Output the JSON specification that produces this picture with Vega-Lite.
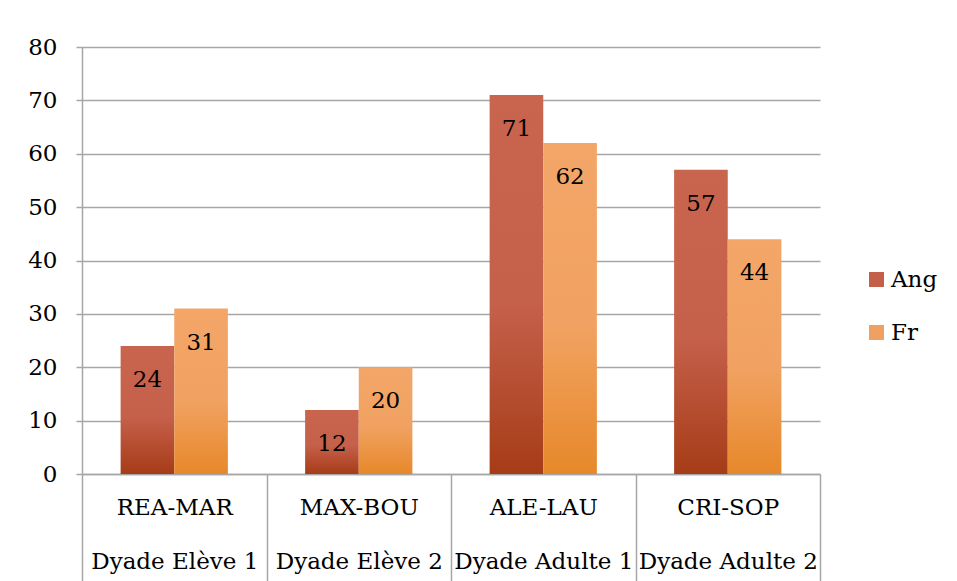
{
  "$schema": "https://vega.github.io/schema/vega-lite/v6.json",
  "width": 738,
  "height": 427,
  "autosize": {"type": "none"},
  "padding": {"left": 82, "top": 47, "right": 137, "bottom": 107},
  "background": "white",
  "config": {
    "view": {"stroke": null},
    "font": "DejaVu Serif"
  },
  "data": {
    "values": [
      {"pair": "REA-MAR|Dyade Elève 1", "lang": "Ang", "value": 24},
      {"pair": "REA-MAR|Dyade Elève 1", "lang": "Fr", "value": 31},
      {"pair": "MAX-BOU|Dyade Elève 2", "lang": "Ang", "value": 12},
      {"pair": "MAX-BOU|Dyade Elève 2", "lang": "Fr", "value": 20},
      {"pair": "ALE-LAU|Dyade Adulte 1", "lang": "Ang", "value": 71},
      {"pair": "ALE-LAU|Dyade Adulte 1", "lang": "Fr", "value": 62},
      {"pair": "CRI-SOP|Dyade Adulte 2", "lang": "Ang", "value": 57},
      {"pair": "CRI-SOP|Dyade Adulte 2", "lang": "Fr", "value": 44}
    ]
  },
  "encoding": {
    "x": {
      "field": "pair",
      "type": "nominal",
      "sort": null,
      "scale": {"paddingInner": 0, "paddingOuter": 0},
      "axis": {
        "title": null,
        "labelAngle": 0,
        "labelExpr": "isValid(datum.value) ? split(datum.value, '|') : ''",
        "labelFont": "DejaVu Serif",
        "labelFontSize": 23,
        "labelColor": "#000000",
        "labelLineHeight": 54,
        "labelBaseline": "top",
        "labelPadding": -85,
        "tickBand": "extent",
        "tickSize": 107,
        "tickColor": "#A6A6A6",
        "tickWidth": 1.5,
        "domainColor": "#A6A6A6",
        "domainWidth": 1.5,
        "grid": false
      }
    },
    "xOffset": {
      "field": "lang",
      "type": "nominal",
      "scale": {"paddingInner": 0, "paddingOuter": 0.72}
    },
    "y": {
      "field": "value",
      "type": "quantitative",
      "scale": {"domain": [0, 80], "nice": false},
      "axis": {
        "title": null,
        "values": [0, 10, 20, 30, 40, 50, 60, 70, 80],
        "labelFont": "DejaVu Serif",
        "labelFontSize": 23,
        "labelColor": "#000000",
        "labelPadding": 19,
        "tickSize": 6,
        "tickColor": "#A6A6A6",
        "tickWidth": 1.5,
        "domainColor": "#A6A6A6",
        "domainWidth": 1.5,
        "grid": true,
        "gridColor": "#A6A6A6",
        "gridWidth": 1.5
      }
    }
  },
  "layer": [
    {
      "transform": [{"filter": "datum.lang === 'Ang'"}],
      "mark": {
        "type": "bar",
        "fill": {"gradient": "linear", "x1": 0, "y1": 0, "x2": 0, "y2": 1,
          "stops": [
            {"offset": 0, "color": "#C9654F"},
            {"offset": 0.55, "color": "#C5604B"},
            {"offset": 1, "color": "#A63C17"}
          ]}
      }
    },
    {
      "transform": [{"filter": "datum.lang === 'Fr'"}],
      "mark": {
        "type": "bar",
        "fill": {"gradient": "linear", "x1": 0, "y1": 0, "x2": 0, "y2": 1,
          "stops": [
            {"offset": 0, "color": "#F3A668"},
            {"offset": 0.55, "color": "#F1A262"},
            {"offset": 1, "color": "#E7882A"}
          ]}
      }
    },
    {
      "mark": {"type": "square", "size": 0, "filled": true},
      "encoding": {
        "color": {
          "field": "lang",
          "type": "nominal",
          "scale": {"domain": ["Ang", "Fr"], "range": ["#C4604A", "#F0A060"]},
          "legend": {
            "title": null,
            "orient": "none",
            "legendX": 783,
            "legendY": 221,
            "symbolType": "square",
            "symbolSize": 225,
            "symbolStrokeWidth": 0,
            "symbolOpacity": 1,
            "labelFont": "DejaVu Serif",
            "labelFontSize": 23,
            "labelColor": "#000000",
            "labelOffset": 3,
            "rowPadding": 29
          }
        }
      }
    },
    {
      "mark": {"type": "text", "baseline": "middle", "dy": 34, "font": "DejaVu Serif", "fontSize": 23, "color": "#000000"},
      "encoding": {
        "text": {"field": "value", "type": "quantitative"}
      }
    }
  ]
}
